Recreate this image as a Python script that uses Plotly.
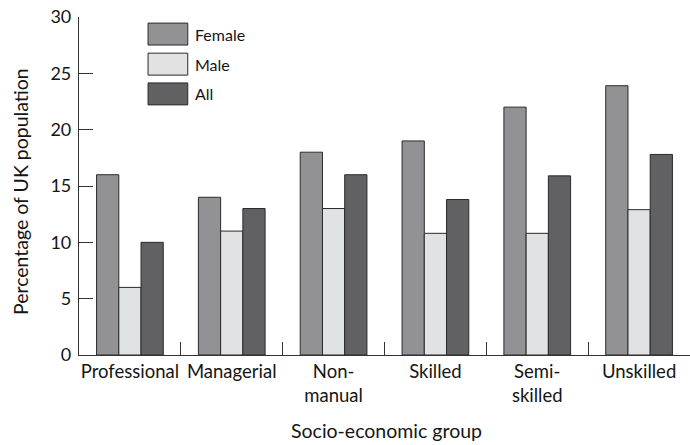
import plotly.graph_objects as go

categories = ["Professional", "Managerial", "Non-<br>manual", "Skilled", "Semi-<br>skilled", "Unskilled"]
female = [16, 14, 18, 19, 22, 23.9]
male = [6, 11, 13, 10.8, 10.8, 12.9]
all_ = [10, 13, 16, 13.8, 15.9, 17.8]
series_names = ["Female", "Male", "All"]
colors = ["#929295", "#e1e2e4", "#616163"]
x_title = "Socio-economic group"
y_title = "Percentage of UK population"

FONT = "Lato"
TXT = "#151515"
fig = go.Figure()
for name, vals, col in zip(series_names, [female, male, all_], colors):
    fig.add_trace(go.Bar(
        x=categories, y=vals, name=name,
        marker=dict(color=col, line=dict(color="#2a2a2a", width=1)),
        showlegend=False,
    ))

# custom legend with large swatches
box_y = [(0.982, 0.917), (0.893, 0.828), (0.805, 0.740)]
for (y1, y0), name, col in zip(box_y, series_names, colors):
    fig.add_shape(type="rect", xref="paper", yref="paper",
                  x0=0.113, x1=0.178, y0=y0, y1=y1,
                  fillcolor=col, line=dict(color="#2a2a2a", width=1))
    fig.add_annotation(xref="paper", yref="paper", x=0.187, y=(y0 + y1) / 2,
                       text=name, showarrow=False, xanchor="left", yanchor="middle",
                       font=dict(family=FONT, size=16, color=TXT))

# axis titles
fig.add_annotation(xref="paper", yref="paper", x=0.503, y=-0.222, text=x_title,
                   showarrow=False, xanchor="center", yanchor="middle",
                   font=dict(family=FONT, size=19.5, color=TXT))
fig.add_annotation(xref="paper", yref="paper", x=-0.0966, y=0.485, text=y_title,
                   showarrow=False, xanchor="center", yanchor="middle", textangle=-90,
                   font=dict(family=FONT, size=19.5, color=TXT))

fig.update_layout(
    width=690, height=445,
    margin=dict(l=79, r=0, t=17, b=90),
    paper_bgcolor="white", plot_bgcolor="white",
    barmode="group", bargap=0.345, bargroupgap=0,
    font=dict(family=FONT, size=18, color=TXT),
    xaxis=dict(
        showline=True, linecolor="#333333", linewidth=1.2,
        ticks="inside", ticklen=13, tickwidth=1.2, tickcolor="#333333",
        tickson="boundaries", showgrid=False, tickangle=0, automargin=False,
        tickfont=dict(family=FONT, size=18.5, color=TXT),
    ),
    yaxis=dict(
        range=[0, 30], tickvals=[0, 5, 10, 15, 20, 25, 30],
        showline=True, linecolor="#333333", linewidth=1.2,
        ticks="inside", ticklen=14, tickwidth=1.2, tickcolor="#333333",
        showgrid=False, zeroline=False, automargin=False, ticklabelstandoff=3,
        tickfont=dict(family=FONT, size=18, color=TXT),
    ),
)

fig.write_html("out.html", config={"displayModeBar": False},
               post_script="document.body.style.margin='0';")
